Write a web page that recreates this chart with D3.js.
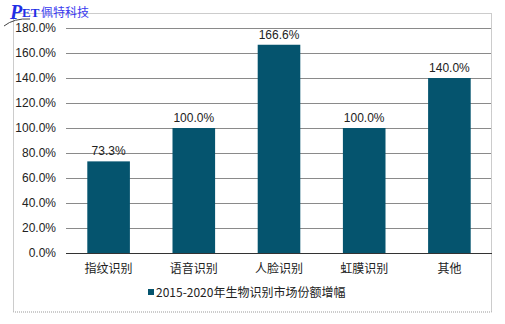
<!DOCTYPE html>
<html><head><meta charset="utf-8">
<script src="https://cdn.jsdelivr.net/npm/d3@7"></script>
<style>body{margin:0;background:#fff;}svg{display:block;}</style>
</head><body>
<script>
const categories = ["指纹识别","语音识别","人脸识别","虹膜识别","其他"];
const values = [73.3, 100.0, 166.6, 100.0, 140.0];
const yTicks = [0,20,40,60,80,100,120,140,160,180];
const seriesName = "2015-2020年生物识别市场份额增幅";

const W = 505, H = 324;
const svg = d3.select("body").append("svg").attr("width", W).attr("height", H);
const cjk = "'Noto Sans CJK SC', 'Noto Sans', sans-serif";
const latin = "'Liberation Sans', Arial, sans-serif";
const barColor = "#05546e";

// outer border
svg.append("rect").attr("x", 13.5).attr("y", 13.5).attr("width", 478).attr("height", 298.5)
  .attr("fill", "none").attr("stroke", "#999").attr("stroke-width", 1).attr("stroke-dasharray", "1,1");

const x = d3.scaleBand().domain(categories).range([66, 492]).paddingInner(0.5).paddingOuter(0.25);
const y = d3.scaleLinear().domain([0, 180]).range([253, 28]);

// gridlines
svg.append("g").selectAll("line").data(yTicks.filter(d => d > 0)).join("line")
  .attr("x1", 66).attr("x2", 491).attr("y1", d => Math.round(y(d)) + 0.5).attr("y2", d => Math.round(y(d)) + 0.5)
  .attr("stroke", "#8a8a8a").attr("stroke-width", 1);

// y axis labels
const yAxis = d3.axisLeft(y).tickValues(yTicks).tickSize(0).tickPadding(0)
  .tickFormat(d => d.toFixed(1) + "%");
const ga = svg.append("g").attr("transform", "translate(56,0)").call(yAxis);
ga.select(".domain").remove();
ga.selectAll("text").attr("font-family", latin).attr("font-size", "12px").attr("fill", "#222");

// bars
svg.append("g").selectAll("rect").data(values).join("rect")
  .attr("x", (d, i) => x(categories[i])).attr("width", x.bandwidth())
  .attr("y", d => y(d)).attr("height", d => y(0) - y(d)).attr("fill", barColor);

// value labels
svg.append("g").selectAll("text").data(values).join("text")
  .attr("x", (d, i) => x(categories[i]) + x.bandwidth() / 2).attr("y", d => y(d) - 6)
  .attr("text-anchor", "middle").attr("font-family", latin).attr("font-size", "12px").attr("fill", "#222")
  .text(d => d.toFixed(1) + "%");

// x axis
const xAxis = d3.axisBottom(x).tickSize(0).tickPadding(11);
const gx = svg.append("g").attr("transform", "translate(0,253.5)").call(xAxis);
gx.select(".domain").attr("stroke", "#333").attr("d", "M66,0H492");
gx.selectAll("text").attr("font-family", cjk).attr("font-size", "12px").attr("fill", "#222");

// legend
svg.append("rect").attr("x", 148).attr("y", 289).attr("width", 6).attr("height", 6).attr("fill", barColor);
svg.append("text").attr("x", 156).attr("y", 297).attr("font-family", cjk).attr("font-size", "12px")
  .attr("fill", "#222").text(seriesName);

// logo
svg.append("path").attr("d", "M4,26 Q14,18 30,19").attr("fill", "none").attr("stroke", "#444").attr("stroke-width", 1);
svg.append("text").attr("x", 10).attr("y", 19).attr("font-family", "'Liberation Serif', serif")
  .attr("font-style", "italic").attr("font-weight", "bold").attr("font-size", "20px").attr("fill", "#1f2fe6")
  .attr("letter-spacing", "-2").text("P");
svg.append("text").attr("x", 22).attr("y", 17).attr("font-family", "'Liberation Serif', serif")
  .attr("font-weight", "bold").attr("font-size", "13px").attr("fill", "#1f2fe6").text("ET");
svg.append("text").attr("x", 41).attr("y", 17).attr("font-family", cjk)
  .attr("font-size", "12px").attr("fill", "#3a3af0").text("佩特科技");
</script>
</body></html>
